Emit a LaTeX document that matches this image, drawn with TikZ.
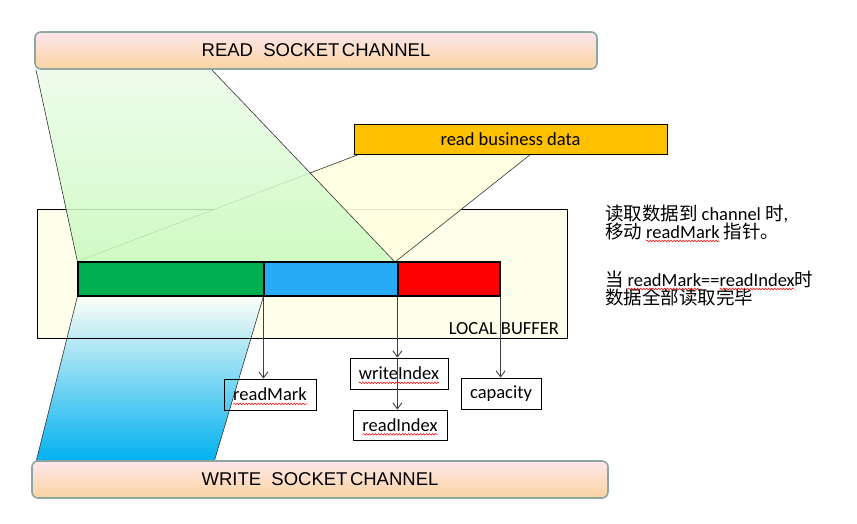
\documentclass[tikz,border=0pt]{standalone}
\usepackage{fontspec}
\setmainfont{Carlito}
\newfontfamily\arialf{Liberation Sans}
\newfontfamily\cjk{Noto Sans CJK SC}
\usetikzlibrary{arrows.meta,decorations.pathmorphing}
\definecolor{chanedge}{RGB}{140,165,165}
\definecolor{chantop}{RGB}{253,230,236}
\definecolor{chanbot}{RGB}{250,212,160}
\definecolor{bizfill}{RGB}{255,192,0}
\definecolor{buffill}{RGB}{255,255,236}
\definecolor{segG}{RGB}{0,176,80}
\definecolor{segB}{RGB}{40,170,247}
\definecolor{segR}{RGB}{255,0,0}
\definecolor{ptrcol}{RGB}{64,64,64}
\definecolor{yfun}{RGB}{255,255,226}
\definecolor{gfuntop}{RGB}{236,252,232}
\definecolor{gfunbot}{RGB}{200,250,190}
\definecolor{bfuntop}{RGB}{252,254,246}
\definecolor{bfunmid}{RGB}{140,216,247}
\definecolor{bfunbot}{RGB}{0,176,240}
\tikzset{
  chanbox/.style={draw=chanedge, line width=1.6pt, rounded corners=6pt,
    top color=chantop, bottom color=chanbot, inner sep=0pt,
    font=\arialf\fontsize{18.5}{20}\selectfont},
  lblbox/.style={draw=black, line width=0.8pt, inner sep=0pt},
  txt/.style={inner sep=0pt, outer sep=0pt, font=\fontsize{18.5}{20}\selectfont},
  segbox/.style={draw=black, line width=1.2pt, inner sep=0pt, minimum height=34pt},
  ptr/.style={draw=ptrcol, line width=0.9pt, -{Straight Barb[length=6pt,width=9pt,line width=0.9pt]}},
  funedge/.style={draw=black!80, line width=0.6pt},
  note/.style={txt, anchor=base west},
  squig/.style={draw=red, line width=0.5pt, decorate,
    decoration={snake, amplitude=0.9pt, segment length=3pt}}
}
\begin{document}
\begin{tikzpicture}[x=1pt,y=-1pt]
\useasboundingbox (0,0) rectangle (857,524);
\fill[white] (0,0) rectangle (857,524);
% local buffer
\node[fill=buffill, inner sep=0pt, minimum width=529pt, minimum height=128pt] (buf) at (302.5,274) {};
\node[txt, anchor=base east] (buflbl) at (559,334) {LOCAL BUFFER};
% bar segments
\node[segbox, fill=segG, minimum width=186pt] (gseg) at (171,279) {};
\node[segbox, fill=segB, minimum width=134pt] (bseg) at (331,279) {};
\node[segbox, fill=segR, minimum width=102pt] (rseg) at (449,279) {};
\coordinate (meet) at (395,262);
% blue funnel (write)
\shade[top color=bfuntop, middle color=bfunmid, bottom color=bfunbot]
  (gseg.south west) -- (bseg.south west) -- (214,462) -- (36,462) -- cycle;
\draw[funedge] (gseg.south west) -- (36,462) -- (214,462) -- (bseg.south west);
\draw[black, line width=0.8pt] (buf.north west) rectangle (buf.south east);
% yellow funnel (business data)
\fill[yfun, fill opacity=0.9] (360,154) -- (531,154) -- (meet) -- (gseg.north west) -- cycle;
\draw[funedge] (360,154) -- (gseg.north west);
\draw[funedge] (531,154) -- (meet);
% green funnel (read)
\shade[top color=gfuntop, bottom color=gfunbot, fill opacity=0.85]
  (36,70) -- (212,70) -- (meet) -- (gseg.north west) -- cycle;
\draw[funedge] (36,70) -- (gseg.north west);
\draw[funedge] (212,70) -- (meet);
% redraw bar on top
\node[segbox, fill=segG, minimum width=186pt] at (171,279) {};
\node[segbox, fill=segB, minimum width=134pt] at (331,279) {};
\node[segbox, fill=segR, minimum width=102pt] at (449,279) {};
% channels
\node[chanbox, minimum width=562pt, minimum height=37pt] (rsc) at (316,50.5) {READ~~SOCKET\hspace{2.5pt}CHANNEL};
\node[chanbox, minimum width=576pt, minimum height=37pt] (wsc) at (320,479.5) {WRITE~~SOCKET\hspace{2.5pt}CHANNEL};
\node[draw=black, line width=0.8pt, fill=bizfill, minimum width=313pt, minimum height=30pt, txt] (biz) at (510.5,139) {read business data};
% pointer boxes
\node[lblbox, minimum width=92pt, minimum height=31pt] (rm) at (270,394.5) {};
\node[lblbox, minimum width=98pt, minimum height=31pt] (wi) at (399,373.5) {};
\node[lblbox, minimum width=94pt, minimum height=30pt] (ri) at (400,425) {};
\node[lblbox, minimum width=80pt, minimum height=31pt] (cap) at (501,393.5) {};
% pointers
\draw[ptr] (bseg.south west) -- (bseg.south west |- rm.north);
\draw[ptr] (rseg.south west) -- (rseg.south west |- wi.north);
\draw[ptr] (rseg.south west |- wi.north) -- (rseg.south west |- ri.north);
\draw[ptr] (rseg.south east) -- (rseg.south east |- cap.north);
% box texts
\node[txt] (rmt) at (rm) {readMark};
\node[txt] (wit) at (wi) {writeIndex};
\node[txt] (rit) at (ri) {readIndex};
\node[txt] (capt) at (cap) {capacity};
\draw[squig] ([yshift=-3pt]rmt.base west) -- ([yshift=-3pt]rmt.base east);
\draw[squig] ([yshift=-3pt]wit.base west) -- ([yshift=-3pt]wit.base east);
\draw[squig] ([yshift=-3pt]rit.base west) -- ([yshift=-3pt]rit.base east);
% notes
\node[note] (n1) at (605,220) {{\cjk 读取数据到}\hspace*{4.2pt}channel\hspace*{4.2pt}{\cjk 时},};
\node[note] (n2a) at (605,238) {\cjk 移动};
\node[note, xshift=4.2pt] (n2b) at (n2a.base east) {readMark};
\node[note, xshift=4.2pt] (n2c) at (n2b.base east) {\cjk 指针。};
\node[note] (n3a) at (605,286) {\cjk 当};
\node[note, xshift=4.2pt] (n3b) at (n3a.base east) {readMark};
\node[note] (n3c) at (n3b.base east) {==};
\node[note] (n3d) at (n3c.base east) {readIndex};
\node[note] (n3e) at (n3d.base east) {\cjk 时};
\node[note] (n4) at (605,304) {\cjk 数据全部读取完毕};
\draw[squig] ([yshift=-3pt]n2b.base west) -- ([yshift=-3pt]n2b.base east);
\draw[squig] ([yshift=-3pt]n3b.base west) -- ([yshift=-3pt]n3b.base east);
\draw[squig] ([yshift=-3pt]n3d.base west) -- ([yshift=-3pt]n3d.base east);
\end{tikzpicture}
\end{document}
